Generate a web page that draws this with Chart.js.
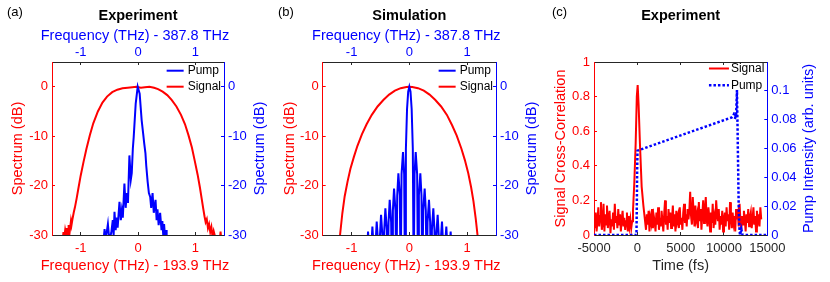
<!DOCTYPE html>
<html>
<head>
<meta charset="utf-8">
<script src="https://cdn.jsdelivr.net/npm/chart.js@4.4.1/dist/chart.umd.min.js"></script>
<style>
  html, body { margin: 0; padding: 0; background: #fff; }
  #wrap { position: relative; width: 830px; height: 282px; overflow: hidden; }
  canvas { position: absolute; top: 0; }
</style>
</head>
<body>
<div id="wrap">
  <canvas id="chartA" width="280" height="282" style="left:0px"></canvas>
  <canvas id="chartB" width="274" height="282" style="left:276px"></canvas>
  <canvas id="chartC" width="280" height="282" style="left:550px"></canvas>
</div>
<script>
// (a) measured spectra, offsets in THz, levels in dB
const expSignalFreq = [-1.46, -1.32, -1.30, -1.29, -1.27, -1.25, -1.24, -1.22, -1.21, -1.19, -1.17, -1.16, -1.14, -1.12, -1.10, -1.07, -1.04, -1.00, -0.95, -0.90, -0.84, -0.78, -0.70, -0.62, -0.54, -0.45, -0.36, -0.27, -0.18, -0.10, -0.03, 0.05, 0.12, 0.20, 0.28, 0.35, 0.43, 0.51, 0.59, 0.67, 0.75, 0.82, 0.88, 0.94, 0.99, 1.04, 1.08, 1.11, 1.14, 1.16, 1.18, 1.20, 1.22, 1.24, 1.26, 1.28, 1.30, 1.32, 1.38, 1.42, 1.44, 1.46];
const expSignalDb = [-32, -32, -29.4, -31, -29.0, -30.2, -28.6, -29.8, -28.0, -29.2, -27.2, -28.0, -26.6, -25.4, -24.4, -22.6, -20.6, -18.0, -15.2, -12.6, -9.8, -7.4, -5.0, -3.2, -2.0, -1.1, -0.6, -0.3, -0.2, -0.1, 0, -0.2, -0.1, 0, -0.2, -0.5, -1.0, -1.7, -2.7, -4.0, -5.7, -7.6, -9.8, -12.3, -15.0, -17.8, -20.4, -22.6, -24.8, -26.2, -27.4, -26.8, -28.6, -27.8, -29.4, -28.4, -30.4, -29.2, -32, -32, -29.3, -32];
const expPumpFreq = [-0.65, -0.60, -0.583, -0.565, -0.525, -0.50, -0.467, -0.44, -0.425, -0.41, -0.39, -0.37, -0.355, -0.323, -0.30, -0.282, -0.265, -0.237, -0.215, -0.196, -0.175, -0.15, -0.125, -0.109, -0.09, -0.075, -0.04, -0.005, 0.029, 0.064, 0.09, 0.109, 0.13, 0.144, 0.168, 0.19, 0.213, 0.23, 0.254, 0.275, 0.306, 0.325, 0.34, 0.36, 0.386, 0.41, 0.425, 0.44, 0.455, 0.475, 0.49, 0.50, 0.60];
const expPumpDb = [-32, -31, -28.8, -31, -27.8, -31, -29.6, -27.0, -30.0, -25.3, -29.0, -26.5, -28.5, -23.3, -27.0, -25.0, -26.5, -19.6, -24.5, -21.5, -23.5, -13.9, -18.8, -17.5, -12.5, -10.2, -3.4, 0, -1.4, -6.8, -9.5, -11.5, -13.5, -16.0, -19.2, -21.5, -22.3, -24.5, -21.5, -25.5, -22.9, -27.0, -24.8, -28.0, -25.5, -29.0, -27.2, -30.0, -27.8, -31, -29, -32, -32];

// (b) simulated spectra
const simSignalFreq = [-1.23, -1.20, -1.16, -1.12, -1.07, -1.02, -0.96, -0.90, -0.82, -0.74, -0.65, -0.55, -0.45, -0.35, -0.25, -0.15, -0.05, 0, 0.05, 0.15, 0.25, 0.35, 0.45, 0.55, 0.65, 0.74, 0.82, 0.90, 0.96, 1.02, 1.07, 1.11, 1.15, 1.18, 1.21];
const simSignalDb = [-33, -30, -25.6, -22.2, -19.2, -16.6, -14.2, -12.0, -9.6, -7.6, -5.7, -4.0, -2.7, -1.6, -0.8, -0.3, -0.05, 0, -0.05, -0.3, -0.8, -1.6, -2.7, -4.0, -5.7, -7.8, -9.9, -12.5, -14.8, -17.5, -20.4, -23.2, -26.8, -30, -33];
const simPumpFreq = [
  -0.75, -0.735, -0.715, -0.69, -0.675, -0.66, -0.64, -0.615, -0.60, -0.585, -0.565, -0.54,
  -0.525, -0.51, -0.49, -0.465, -0.45, -0.435, -0.415, -0.39, -0.375, -0.36, -0.34, -0.315,
  -0.30, -0.285, -0.265, -0.24, -0.225, -0.21, -0.19, -0.165, -0.15, -0.135, -0.11, -0.09,
  -0.075, -0.06, -0.04, -0.02, 0, 0.02, 0.04, 0.06,
  0.075, 0.09, 0.11, 0.135, 0.15, 0.165, 0.19, 0.21, 0.225, 0.24, 0.265, 0.285,
  0.30, 0.315, 0.34, 0.36, 0.375, 0.39, 0.415, 0.435, 0.45, 0.465, 0.49, 0.51,
  0.525, 0.54, 0.565, 0.585, 0.60, 0.615, 0.64, 0.66, 0.675, 0.69, 0.715, 0.735, 0.75];
const simPumpDb = [
  -40, -33.8, -29.3, -33.8, -40, -32.8, -28.3, -32.8, -40, -31.8, -27.3, -31.8,
  -40, -30.4, -25.9, -30.4, -40, -29.1, -24.6, -29.1, -40, -27.4, -22.9, -27.4,
  -40, -25.1, -20.6, -25.1, -40, -22.0, -17.5, -22.0, -40, -17.7, -13.2, -17.7,
  -40, -12.6, -4.5, -1.0, 0, -1.0, -4.5, -12.6,
  -40, -17.7, -13.2, -17.7, -40, -22.0, -17.5, -22.0, -40, -25.1, -20.6, -25.1,
  -40, -27.4, -22.9, -27.4, -40, -29.1, -24.6, -29.1, -40, -30.4, -25.9, -30.4,
  -40, -31.8, -27.3, -31.8, -40, -32.8, -28.3, -32.8, -40, -33.8, -29.3, -33.8, -40];

// (c) cross-correlation (normalised) and pump intensity vs delay in fs
const corrTime = [
  -5000, -4900, -4800, -4700, -4600, -4500, -4400, -4300, -4200, -4100,
  -4000, -3900, -3800, -3700, -3600, -3500, -3400, -3300, -3200, -3100,
  -3000, -2900, -2800, -2700, -2600, -2500, -2400, -2300, -2200, -2100,
  -2000, -1900, -1800, -1700, -1600, -1500, -1400, -1300, -1200, -1100,
  -1000, -900, -800, -700,
  -600, -500, -350, -190, -60, 40, 150, 300, 500, 700, 850,
  1000, 1100, 1200, 1300, 1400, 1500, 1600, 1700, 1800, 1900,
  2000, 2100, 2200, 2300, 2400, 2500, 2600, 2700, 2800, 2900,
  3000, 3100, 3200, 3300, 3400, 3500, 3600, 3700, 3800, 3900,
  4000, 4100, 4200, 4300, 4400, 4500, 4600, 4700, 4800, 4900,
  5000, 5100, 5200, 5300, 5400, 5500, 5600, 5700, 5800, 5900,
  6000, 6100, 6200, 6300, 6400, 6500, 6600, 6700, 6800, 6900,
  7000, 7100, 7200, 7300, 7400, 7500, 7600, 7700, 7800, 7900,
  8000, 8100, 8200, 8300, 8400, 8500, 8600, 8700, 8800, 8900,
  9000, 9100, 9200, 9300, 9400, 9500, 9600, 9700, 9800, 9900,
  10000, 10100, 10200, 10300, 10400, 10500, 10600, 10700, 10800, 10900,
  11000, 11100, 11200, 11300, 11400, 11500, 11600, 11700, 11800, 11900,
  12000, 12100, 12200, 12300, 12400, 12500, 12600, 12700, 12800, 12900,
  13000, 13100, 13200, 13300, 13400, 13500, 13600, 13700, 13800, 13900,
  14000, 14100, 14200, 14300];
const corrSignal = [
  0.10, 0.04, 0.13, 0.02, 0.08, 0.16, 0.05, 0.11, 0.19, 0.03,
  0.07, 0.18, 0.02, 0.12, 0.06, 0.17, 0.04, 0.10, 0.14, 0.01,
  0.09, 0.05, 0.13, 0.03, 0.18, 0.07, 0.11, 0.04, 0.15, 0.06,
  0.12, 0.02, 0.09, 0.14, 0.05, 0.10, 0.03, 0.08, 0.13, 0.02,
  0.11, 0.05, 0.09, 0.04,
  0.08, 0.14, 0.30, 0.53, 0.80, 0.867, 0.75, 0.53, 0.28, 0.17, 0.10,
  0.03, 0.12, 0.06, 0.14, 0.02, 0.10, 0.07, 0.15, 0.04, 0.11,
  0.08, 0.02, 0.13, 0.06, 0.16, 0.03, 0.10, 0.05, 0.14, 0.08,
  0.02, 0.12, 0.20, 0.06, 0.11, 0.03, 0.15, 0.07, 0.13, 0.04,
  0.09, 0.17, 0.05, 0.12, 0.02, 0.14, 0.08, 0.11, 0.04, 0.16,
  0.06, 0.10, 0.03, 0.13, 0.18, 0.07, 0.12, 0.05, 0.15, 0.09,
  0.14, 0.25, 0.11, 0.06, 0.22, 0.13, 0.05, 0.17, 0.09, 0.12,
  0.04, 0.19, 0.08, 0.15, 0.03, 0.12, 0.20, 0.07, 0.14, 0.22,
  0.09, 0.05, 0.16, 0.11, 0.02, 0.13, 0.07, 0.18, 0.04, 0.10,
  0.06, 0.20, 0.12, 0.08, 0.15, 0.03, 0.11, 0.06, 0.14, 0.02,
  0.09, 0.13, 0.05, 0.16, 0.08, 0.12, 0.03, 0.19, 0.10, 0.04,
  0.13, 0.07, 0.11, 0.02, 0.15, 0.09, 0.12, 0.05, 0.18, 0.08,
  0.03, 0.11, 0.06, 0.14, 0.09, 0.02, 0.12, 0.07, 0.15, 0.05,
  0.10, 0.13, 0.04, 0.09, 0.16, 0.06, 0.11, 0.02, 0.14, 0.08,
  0.12, 0.05, 0.16, 0.09];
const pumpTime = [-5000, -100, -60, -20, 20, 10900, 11050, 11200, 11300, 11350, 11250, 11400, 11500, 11520, 11560, 11600, 11650, 11700, 11780, 11850, 12000, 12150, 15000];
const pumpIntensity = [0, 0, 0.02, 0.045, 0.0585, 0.0816, 0.0825, 0.0845, 0.0845, 0.0815, 0.0805, 0.083, 0.1005, 0.09, 0.078, 0.06, 0.04, 0.02, 0.005, 0, 0.004, 0, 0];

// tick labels
const freqTicks = [-1, 0, 1];
const dbTicks = [-30, -20, -10, 0];
const timeTicks = [-5000, 0, 5000, 10000, 15000];
const corrTicks = [0, 0.2, 0.4, 0.6, 0.8, 1];
const pumpTicks = [0, 0.02, 0.04, 0.06, 0.08, 0.1];

const RED = '#ff0000';
const BLUE = '#0000ff';
const DARK = '#262626';
const FONT = "'Liberation Sans', Arial, Helvetica, sans-serif";

function pts(xs, ys) {
    return xs.map((x, i) => ({ x: x, y: ys[i] }));
}

function yAxis(pos, color, tickVals, min, max, width, title, titlePad) {
    return {
        type: 'linear', position: pos, min: min, max: max,
        afterBuildTicks: s => { s.ticks = tickVals.map(v => ({ value: v })); },
        afterFit: s => { s.width = width; },
        border: { color: color, width: 1 },
        grid: { drawOnChartArea: false, drawTicks: true, tickLength: -3, color: color },
        ticks: { color: color, font: { family: FONT, size: 13 }, padding: 7, callback: v => String(v) },
        title: { display: !!title, text: title || '', color: color, font: { family: FONT, size: 14.5 }, padding: { top: titlePad || 0 } }
    };
}

function xAxis(pos, lineColor, labelColor, tickVals, min, max, height, title, showLabels) {
    const bottom = pos === 'bottom';
    return {
        type: 'linear', position: pos, min: min, max: max,
        afterBuildTicks: s => { s.ticks = tickVals.map(v => ({ value: v })); },
        afterFit: s => { s.height = height; },
        border: { color: lineColor, width: 1 },
        grid: { drawOnChartArea: false, drawTicks: true, tickLength: -3, color: lineColor },
        ticks: { display: showLabels, color: labelColor, font: { family: FONT, size: 13 }, padding: bottom ? 8.2 : 4.4,
                 maxRotation: 0, autoSkip: false, callback: v => String(v) },
        title: { display: !!title, text: title || '', color: labelColor, font: { family: FONT, size: 14.5 },
                 padding: bottom ? { bottom: 7.8 } : { top: 2.1 } }
    };
}

// panel letter, legend inside the plot box, wide axis titles and a right-hand title read bottom to top
function decor(o) {
    return {
        id: 'decor',
        afterDraw(chart) {
            const ctx = chart.ctx;
            const area = chart.chartArea;
            ctx.save();
            ctx.textBaseline = 'middle';
            ctx.textAlign = 'left';
            ctx.fillStyle = '#000';
            ctx.font = '13px ' + FONT;
            ctx.fillText(o.letter, o.letterX, 12.3);

            ctx.font = '12px ' + FONT;
            const sets = o.legendOrder.map(l => chart.data.datasets.find(d => d.label === l));
            const maxW = Math.max(...sets.map(d => ctx.measureText(d.label).width));
            const textX = area.right - 3 - maxW;
            sets.forEach((d, i) => {
                const y = area.top + o.legendTop + i * o.rowH;
                ctx.strokeStyle = d.borderColor;
                ctx.lineWidth = d.borderWidth;
                ctx.setLineDash(d.borderDash || []);
                ctx.beginPath();
                ctx.moveTo(textX - o.gap - o.lineLen, y);
                ctx.lineTo(textX - o.gap, y);
                ctx.stroke();
                ctx.setLineDash([]);
                ctx.fillStyle = '#000';
                ctx.fillText(d.label, textX, y);
            });

            ctx.font = '14.5px ' + FONT;
            ctx.textAlign = 'center';
            (o.wideTitles || []).forEach(t => {
                ctx.fillStyle = t.color;
                ctx.fillText(t.text, (area.left + area.right) / 2 - 3, t.y);
            });

            ctx.translate(o.rightX, (area.top + area.bottom) / 2);
            ctx.rotate(-Math.PI / 2);
            ctx.fillStyle = o.rightColor;
            ctx.fillText(o.rightTitle, 0, 0);
            ctx.restore();
        }
    };
}

function baseOptions(titleText, scales) {
    return {
        responsive: false,
        animation: false,
        devicePixelRatio: 1,
        layout: { padding: 0 },
        elements: { point: { radius: 0 }, line: { tension: 0 } },
        plugins: {
            legend: { display: false },
            tooltip: { enabled: false },
            title: {
                display: true, text: titleText, color: '#000', fullSize: false,
                font: { family: FONT, size: 14.5, weight: 'bold' },
                padding: { top: 7.3, bottom: 0 }
            }
        },
        scales: scales
    };
}

function spectrumChart(id, titleText, signalF, signalDb, pumpF, pumpDb, leftW, rightW, leftPad, letter, letterX, rightX) {
    new Chart(document.getElementById(id), {
        type: 'line',
        data: {
            datasets: [
                { label: 'Pump', data: pts(pumpF, pumpDb), xAxisID: 'xT', yAxisID: 'yR',
                  borderColor: BLUE, borderWidth: 2, fill: false },
                { label: 'Signal', data: pts(signalF, signalDb), xAxisID: 'xB', yAxisID: 'yL',
                  borderColor: RED, borderWidth: 2, fill: false }
            ]
        },
        options: baseOptions(titleText, {
            xB: xAxis('bottom', DARK, RED, freqTicks, -1.5, 1.5, 47, '', true),
            xT: xAxis('top', DARK, BLUE, freqTicks, -1.5, 1.5, 37.3, '', true),
            yL: yAxis('left', RED, dbTicks, -30, 5, leftW, 'Spectrum (dB)', leftPad),
            yR: yAxis('right', BLUE, dbTicks, -30, 5, rightW, '', 0)
        }),
        plugins: [decor({
            letter: letter, letterX: letterX,
            legendOrder: ['Pump', 'Signal'], legendTop: 8.7, rowH: 16, lineLen: 17, gap: 4,
            wideTitles: [
                { text: 'Frequency (THz) - 387.8 THz', color: BLUE, y: 35.5 },
                { text: 'Frequency (THz) - 193.9 THz', color: RED, y: 265.5 }
            ],
            rightTitle: 'Spectrum (dB)', rightColor: BLUE, rightX: rightX
        })]
    });
}

spectrumChart('chartA', 'Experiment', expSignalFreq, expSignalDb, expPumpFreq, expPumpDb, 52, 56, 9.3, '(a)', 7, 260);
spectrumChart('chartB', 'Simulation', simSignalFreq, simSignalDb, simPumpFreq, simPumpDb, 46.7, 54, 5.3, '(b)', 2, 255.7);

new Chart(document.getElementById('chartC'), {
    type: 'line',
    data: {
        datasets: [
            { label: 'Pump', data: pts(pumpTime, pumpIntensity), xAxisID: 'xB', yAxisID: 'yR',
              borderColor: BLUE, borderWidth: 2.5, borderDash: [2.5, 2], fill: false },
            { label: 'Signal', data: pts(corrTime, corrSignal), xAxisID: 'xB', yAxisID: 'yL',
              borderColor: RED, borderWidth: 2, fill: false }
        ]
    },
    options: baseOptions('Experiment', {
        xB: xAxis('bottom', DARK, DARK, timeTicks, -5000, 15000, 47, 'Time (fs)', true),
        xT: xAxis('top', DARK, DARK, timeTicks, -5000, 15000, 37.3, '', false),
        yL: yAxis('left', RED, corrTicks, 0, 1, 44, 'Signal Cross-Correlation', 2.3),
        yR: yAxis('right', BLUE, pumpTicks, 0, 0.12, 62.7, '', 0)
    }),
    plugins: [decor({
        letter: '(c)', letterX: 2,
        legendOrder: ['Signal', 'Pump'], legendTop: 6.5, rowH: 16.7, lineLen: 20, gap: 2,
        rightTitle: 'Pump Intensity (arb. units)', rightColor: BLUE, rightX: 259
    })]
});
</script>
</body>
</html>
